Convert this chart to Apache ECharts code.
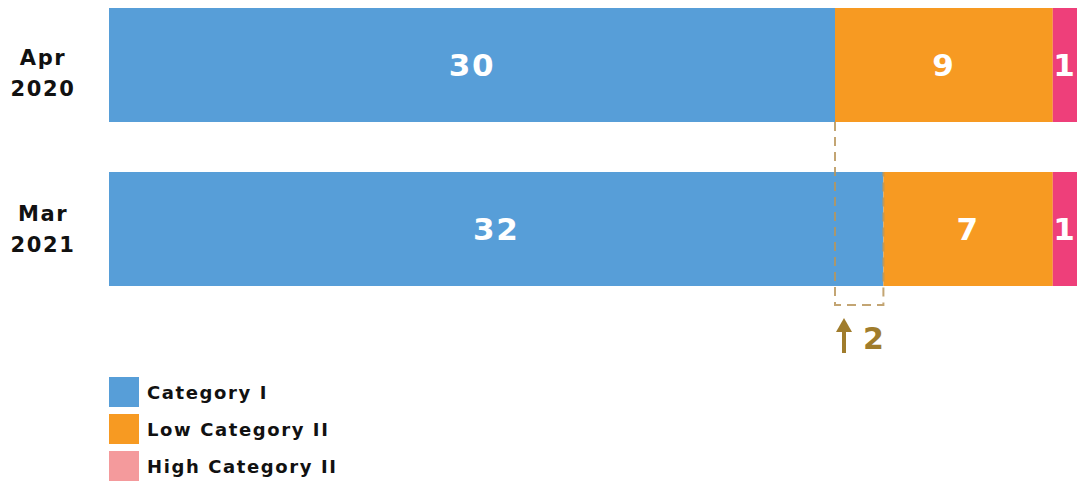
<!DOCTYPE html>
<html><head><meta charset="utf-8">
<script src="https://cdn.jsdelivr.net/npm/echarts@6/dist/echarts.min.js"></script>
<style>html,body{margin:0;padding:0;background:#fff}#c{width:1077px;height:482px;overflow:hidden}#c text{letter-spacing:1.6px}</style>
</head><body><div id="c"></div>
<script>
const categories = ['Apr\n2020', 'Mar\n2021'];
const seriesNames = ['Category I', 'Low Category II', 'High Category II'];
const categoryI = [30, 32];
const lowCategoryII = [9, 7];
const highCategoryII = [1, 1];
const changeLabel = '2';

const FONT = 'DejaVu Sans';
const chart = echarts.init(document.getElementById('c'), null, { renderer: 'svg' });
const mk = (name, data, color) => ({
  name, type: 'bar', stack: 'a', data, barWidth: 114,
  itemStyle: { color },
  label: { show: true, position: 'inside', color: '#fff', fontSize: 31, fontWeight: 'bold', fontFamily: FONT },
  emphasis: { disabled: true }, animation: false
});
chart.setOption({
  animation: false,
  grid: { left: 109, right: 0, top: -17, height: 328, outerBoundsMode: 'none', containLabel: false },
  xAxis: { type: 'value', min: 0, max: 40, show: false },
  yAxis: {
    type: 'category', inverse: true, data: categories,
    axisLine: { show: false }, axisTick: { show: false }, splitLine: { show: false },
    axisLabel: {
      margin: 66, align: 'center', fontSize: 21, fontWeight: 'bold', color: '#111', fontFamily: FONT, lineHeight: 31,
      formatter: (v, i) => i === 0 ? '{s|}\n' + v : v,
      rich: { s: { height: 16, lineHeight: 16 } }
    }
  },
  legend: {
    orient: 'vertical', left: 109, top: 377, itemWidth: 30, itemHeight: 30, itemGap: 7, padding: 0,
    icon: 'rect', selectedMode: false,
    textStyle: { fontSize: 18, fontWeight: 'bold', color: '#111', fontFamily: FONT, padding: [0, 0, 0, 3] },
    data: [
      { name: seriesNames[0], itemStyle: { color: '#579ed8' } },
      { name: seriesNames[1], itemStyle: { color: '#f79a22' } },
      { name: seriesNames[2], itemStyle: { color: '#f49a9c' } }
    ]
  },
  series: [
    mk(seriesNames[0], categoryI, '#579ed8'),
    mk(seriesNames[1], lowCategoryII, '#f79a22'),
    mk(seriesNames[2], highCategoryII, '#ee3f7a')
  ]
});

const x0 = chart.convertToPixel({ xAxisIndex: 0 }, categoryI[0]);
const x1 = chart.convertToPixel({ xAxisIndex: 0 }, categoryI[1]);
const y0 = chart.convertToPixel({ yAxisIndex: 0 }, categories[0]);
const y1 = chart.convertToPixel({ yAxisIndex: 0 }, categories[1]);
const yb = y1 + 76;
const ax = x0 + 9;
chart.setOption({
  graphic: [
    { type: 'polyline', silent: true, z: 10,
      shape: { points: [[x0, y0 + 57], [x0, yb], [x1, yb], [x1, y1 - 57]] },
      style: { stroke: '#b8955a', lineWidth: 2, lineDash: [9, 6], fill: null, opacity: 0.85 } },
    { type: 'rect', silent: true, shape: { x: ax - 2, y: yb + 24, width: 4, height: 24 }, style: { fill: '#a07c2c' } },
    { type: 'polygon', silent: true, shape: { points: [[ax - 8, yb + 27], [ax + 8, yb + 27], [ax, yb + 13]] }, style: { fill: '#a07c2c' } },
    { type: 'text', silent: true, x: ax + 19, y: yb + 33,
      style: { text: changeLabel, fontSize: 30, fontWeight: 'bold', fill: '#a07c2c', fontFamily: FONT, verticalAlign: 'middle' } }
  ]
});
</script></body></html>
